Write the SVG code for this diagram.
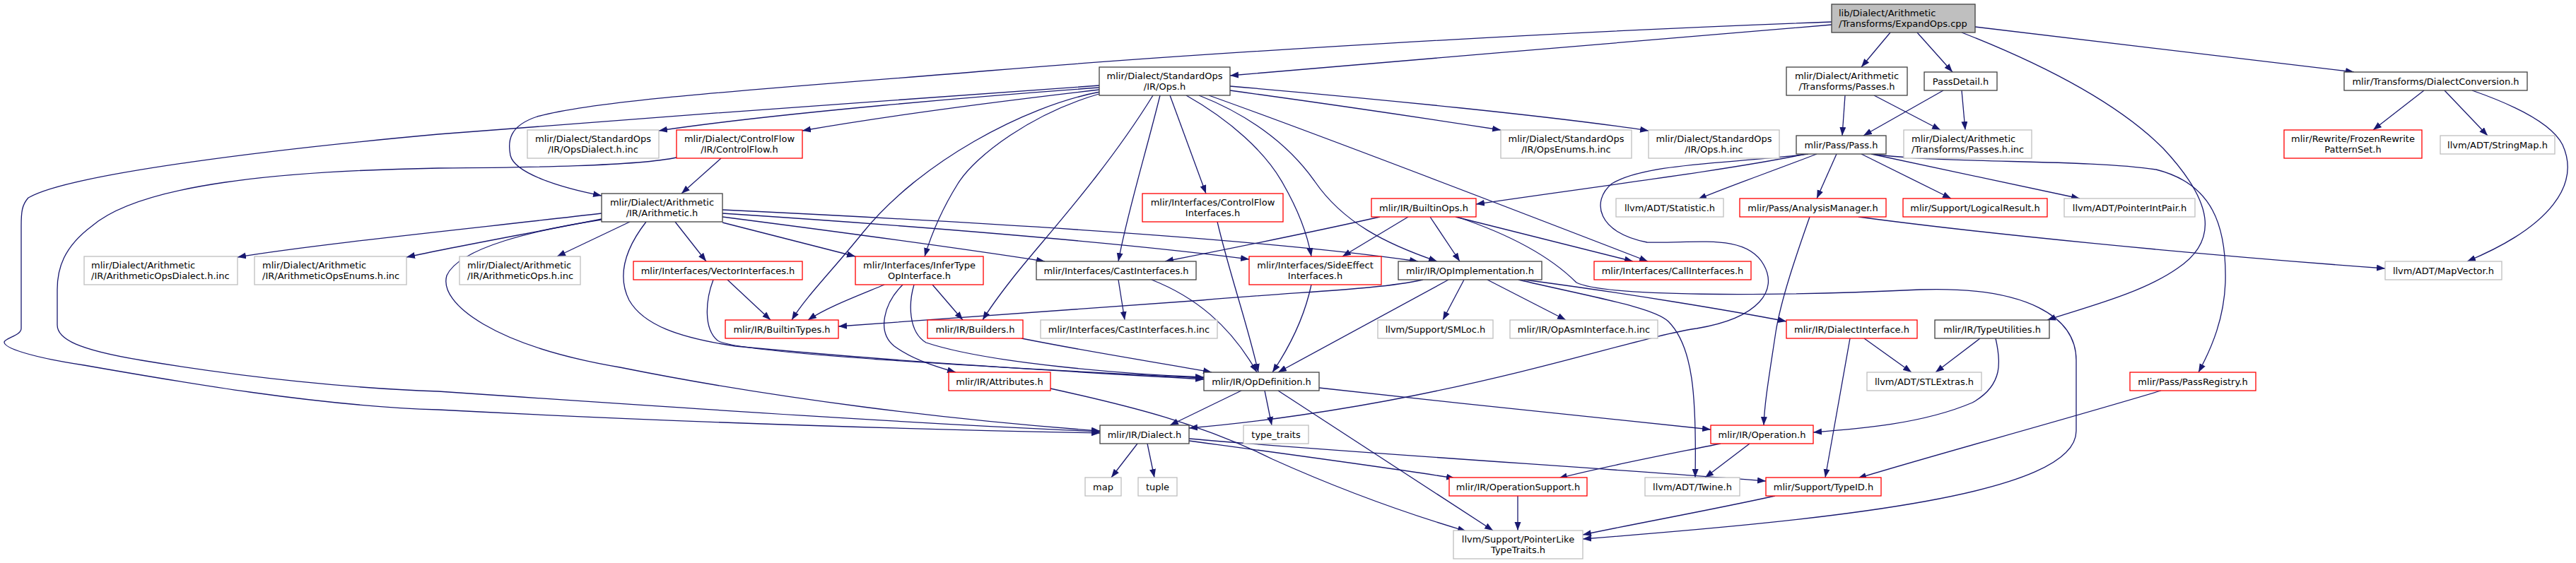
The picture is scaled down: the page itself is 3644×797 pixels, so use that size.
<svg xmlns="http://www.w3.org/2000/svg" width="3644" height="797" viewBox="0 0 3644 797">
<defs>
<style>
.e{fill:none;stroke:#191970;stroke-width:1.3;marker-end:url(#a)}
rect{fill:#ffffff;stroke-width:1.3}
.b rect{stroke:#404040}
.g rect{stroke:#bfbfbf}
.r rect{stroke:#ff0000}
.root rect{fill:#bfbfbf;stroke:#404040}
text{font-family:"DejaVu Sans","Liberation Sans",sans-serif;font-size:13px;fill:#000000;text-anchor:middle}
text.l{text-anchor:start}
</style>
<marker id="a" markerWidth="13" markerHeight="10" refX="12" refY="4.5" orient="auto" markerUnits="userSpaceOnUse" viewBox="0 0 13 10"><path d="M0,0L12,4.5L0,9z" fill="#191970"/></marker>
</defs>
<rect x="0" y="0" width="3644" height="797"/>
<g id="edges">
<path class="e" d="M2591,35 C2350,55 2000,85 1740,107"/>
<path class="e" d="M2591,31 C2200,45 1700,75 1400,100 C1100,125 850,140 760,165 C720,178 718,200 722,220 C728,245 790,265 851,277"/>
<path class="e" d="M2674,46 L2633,95"/>
<path class="e" d="M2712,46 L2762,102"/>
<path class="e" d="M2794,38 C3000,62 3200,85 3330,102"/>
<path class="e" d="M2775,46 C2900,95 3000,150 3060,210 C3130,285 3140,340 3080,380 C3030,415 2950,435 2896,453"/>
<path class="e" d="M2610,135 L2606,192"/>
<path class="e" d="M2651,135 L2745,184"/>
<path class="e" d="M2749,128 L2636,192"/>
<path class="e" d="M2775,128 L2780,184"/>
<path class="e" d="M3429,128 L3357,184"/>
<path class="e" d="M3458,128 L3519,192"/>
<path class="e" d="M3497,128 C3560,150 3610,175 3625,205 C3650,260 3610,320 3490,370"/>
<path class="e" d="M1555,121 C1400,131 900,168 620,190 C400,210 100,245 40,280 C31,290 30,300 30,320 L30,465 C30,475 8,478 6,484 C5,492 40,505 119,517 C250,540 450,575 620,580 C1000,600 1300,608 1556,613"/>
<path class="e" d="M1555,124 C1400,135 1100,160 932,185"/>
<path class="e" d="M1555,127 C1400,145 1250,165 1135,185"/>
<path class="e" d="M1020,224 L964,274"/>
<path class="e" d="M957,223 C900,235 750,237 620,238 C400,242 200,260 130,320 C90,350 81,380 81,410 L81,460 C81,480 110,495 200,510 C350,535 500,550 620,554 C1000,580 1300,600 1556,611"/>
<path class="e" d="M1556,130 C1450,150 1300,230 1220,330 C1180,380 1140,420 1120,453"/>
<path class="e" d="M1558,132 C1460,160 1380,220 1355,260 C1330,300 1315,340 1308,363"/>
<path class="e" d="M1631,135 C1560,250 1470,345 1430,397 C1412,420 1398,440 1390,453"/>
<path class="e" d="M1641,135 C1620,220 1595,300 1582,370"/>
<path class="e" d="M1655,135 L1706,274"/>
<path class="e" d="M1678,135 C1740,170 1790,215 1815,260 C1838,300 1850,335 1855,363"/>
<path class="e" d="M1696,135 C1760,160 1820,200 1860,257 C1900,315 1960,345 2033,370"/>
<path class="e" d="M1710,135 C1850,185 2150,300 2331,370"/>
<path class="e" d="M1740,128 C1900,150 2020,168 2123,184"/>
<path class="e" d="M1740,122 C1950,140 2200,165 2332,185"/>
<path class="e" d="M851,302 C700,320 450,345 336,364"/>
<path class="e" d="M851,310 C750,330 650,348 575,364"/>
<path class="e" d="M891,314 L788,363"/>
<path class="e" d="M955,314 L999,370"/>
<path class="e" d="M1022,315 L1210,363"/>
<path class="e" d="M1022,307 C1200,330 1350,350 1478,370"/>
<path class="e" d="M1022,302 C1300,320 1600,345 1767,367"/>
<path class="e" d="M1022,297 C1400,315 1800,340 2006,370"/>
<path class="e" d="M914,314 C890,345 870,385 890,425 C910,460 960,478 1040,490 C1300,515 1550,528 1703,537"/>
<path class="e" d="M851,311 C760,325 650,350 632,390 C620,430 700,490 877,520 C1100,565 1350,595 1556,610"/>
<path class="e" d="M1029,396 L1090,453"/>
<path class="e" d="M1009,396 C998,425 995,465 1015,482 C1040,500 1400,520 1703,535"/>
<path class="e" d="M1251,403 C1210,420 1170,435 1143,453"/>
<path class="e" d="M1319,403 L1362,453"/>
<path class="e" d="M1277,403 C1250,430 1240,470 1265,490 C1290,508 1320,518 1352,527"/>
<path class="e" d="M1293,403 C1285,430 1285,470 1310,485 C1400,515 1600,530 1703,534"/>
<path class="e" d="M1582,396 L1591,453"/>
<path class="e" d="M1629,396 C1690,420 1740,460 1778,527"/>
<path class="e" d="M1722,314 C1740,390 1765,460 1780,527"/>
<path class="e" d="M1855,403 C1845,450 1825,490 1800,527"/>
<path class="e" d="M1445,479 C1550,500 1650,515 1714,527"/>
<path class="e" d="M2013,396 C1950,410 1850,412 1700,425 C1500,440 1300,455 1186,462"/>
<path class="e" d="M2049,396 L1808,527"/>
<path class="e" d="M2071,396 L2041,453"/>
<path class="e" d="M2104,396 L2215,453"/>
<path class="e" d="M2148,396 C2250,420 2340,435 2360,455 C2395,490 2400,560 2398,676"/>
<path class="e" d="M2156,396 C2300,415 2450,440 2527,455"/>
<path class="e" d="M1952,307 C1850,330 1750,350 1648,370"/>
<path class="e" d="M1992,307 L1899,363"/>
<path class="e" d="M2023,307 L2065,370"/>
<path class="e" d="M2059,307 L2310,370"/>
<path class="e" d="M2061,307 C2130,330 2190,360 2230,400 C2270,420 2500,420 2716,410 C2870,405 2937,450 2937,510 L2937,610 C2937,700 2600,735 2239,763"/>
<path class="e" d="M2554,218 C2450,240 2250,265 2088,289"/>
<path class="e" d="M2570,218 C2500,245 2450,262 2402,282"/>
<path class="e" d="M2558,218 C2450,232 2330,230 2280,260 C2250,285 2260,330 2330,343 C2400,345 2470,330 2495,375 C2515,410 2490,450 2400,465 C2330,475 2200,520 2000,560 C1900,580 1780,598 1682,606"/>
<path class="e" d="M2598,218 L2570,281"/>
<path class="e" d="M2633,218 L2760,281"/>
<path class="e" d="M2647,218 L2942,281"/>
<path class="e" d="M2649,218 C2750,232 2950,225 3050,240 C3130,260 3150,320 3148,400 C3146,450 3130,490 3110,527"/>
<path class="e" d="M2560,307 C2545,350 2520,420 2512,470 C2503,530 2496,570 2495,602"/>
<path class="e" d="M2629,307 C2800,330 3100,360 3374,380"/>
<path class="e" d="M1756,553 L1655,602"/>
<path class="e" d="M1789,553 L1799,602"/>
<path class="e" d="M1866,549 C2050,570 2300,595 2420,608"/>
<path class="e" d="M1808,553 L2112,751"/>
<path class="e" d="M1609,628 L1572,676"/>
<path class="e" d="M1623,628 L1633,676"/>
<path class="e" d="M1682,624 C1800,640 1950,660 2058,677"/>
<path class="e" d="M1682,621 C1900,640 2300,665 2498,681"/>
<path class="e" d="M1486,550 C1600,575 1700,600 1800,650 C1900,695 2000,730 2074,752"/>
<path class="e" d="M2434,628 C2350,645 2270,660 2205,677"/>
<path class="e" d="M2475,628 L2412,676"/>
<path class="e" d="M2637,479 L2704,527"/>
<path class="e" d="M2617,479 L2582,676"/>
<path class="e" d="M2801,479 L2738,527"/>
<path class="e" d="M2823,479 C2830,510 2835,545 2790,570 C2720,600 2630,607 2565,612"/>
<path class="e" d="M3057,553 C2900,600 2750,640 2628,677"/>
<path class="e" d="M2147,702 L2147,751"/>
<path class="e" d="M2511,702 C2420,722 2320,740 2239,757"/>
</g>
<g id="n_root" class="root"><rect x="2591" y="6" width="203" height="40"/><text class="l" x="2601" y="23">lib/Dialect/Arithmetic</text><text class="l" x="2601" y="38">/Transforms/ExpandOps.cpp</text></g>
<g id="n_stdops" class="b"><rect x="1555" y="95" width="185" height="40"/><text x="1647.5" y="112">mlir/Dialect/StandardOps</text><text x="1647.5" y="127">/IR/Ops.h</text></g>
<g id="n_arithpasses" class="b"><rect x="2527" y="95" width="171" height="40"/><text x="2612.5" y="112">mlir/Dialect/Arithmetic</text><text x="2612.5" y="127">/Transforms/Passes.h</text></g>
<g id="n_passdetail" class="b"><rect x="2722" y="102" width="103" height="26"/><text x="2773.5" y="120">PassDetail.h</text></g>
<g id="n_dialectconv" class="b"><rect x="3316" y="102" width="259" height="26"/><text x="3445.5" y="120">mlir/Transforms/DialectConversion.h</text></g>
<g id="n_opsdialectinc" class="g"><rect x="746" y="184" width="186" height="40"/><text x="839" y="201">mlir/Dialect/StandardOps</text><text x="839" y="216">/IR/OpsDialect.h.inc</text></g>
<g id="n_controlflow" class="r"><rect x="957" y="184" width="178" height="40"/><text x="1046" y="201">mlir/Dialect/ControlFlow</text><text x="1046" y="216">/IR/ControlFlow.h</text></g>
<g id="n_opsenumsinc" class="g"><rect x="2123" y="184" width="185" height="40"/><text x="2215.5" y="201">mlir/Dialect/StandardOps</text><text x="2215.5" y="216">/IR/OpsEnums.h.inc</text></g>
<g id="n_opsinc" class="g"><rect x="2332" y="184" width="185" height="40"/><text x="2424.5" y="201">mlir/Dialect/StandardOps</text><text x="2424.5" y="216">/IR/Ops.h.inc</text></g>
<g id="n_pass" class="b"><rect x="2541" y="192" width="127" height="26"/><text x="2604.5" y="210">mlir/Pass/Pass.h</text></g>
<g id="n_passesinc" class="g"><rect x="2693" y="184" width="181" height="40"/><text class="l" x="2704" y="201">mlir/Dialect/Arithmetic</text><text class="l" x="2704" y="216">/Transforms/Passes.h.inc</text></g>
<g id="n_frozen" class="r"><rect x="3231" y="184" width="195" height="40"/><text x="3328.5" y="201">mlir/Rewrite/FrozenRewrite</text><text x="3328.5" y="216">PatternSet.h</text></g>
<g id="n_stringmap" class="g"><rect x="3452" y="192" width="162" height="26"/><text x="3533" y="210">llvm/ADT/StringMap.h</text></g>
<g id="n_arith" class="b"><rect x="851" y="274" width="171" height="40"/><text x="936.5" y="291">mlir/Dialect/Arithmetic</text><text x="936.5" y="306">/IR/Arithmetic.h</text></g>
<g id="n_cfinterfaces" class="r"><rect x="1616" y="274" width="199" height="40"/><text x="1715.5" y="291">mlir/Interfaces/ControlFlow</text><text x="1715.5" y="306">Interfaces.h</text></g>
<g id="n_builtinops" class="r"><rect x="1940" y="281" width="148" height="26"/><text x="2014" y="299">mlir/IR/BuiltinOps.h</text></g>
<g id="n_statistic" class="g"><rect x="2286" y="281" width="152" height="26"/><text x="2362" y="299">llvm/ADT/Statistic.h</text></g>
<g id="n_analysis" class="r"><rect x="2461" y="281" width="207" height="26"/><text x="2564.5" y="299">mlir/Pass/AnalysisManager.h</text></g>
<g id="n_logical" class="r"><rect x="2692" y="281" width="204" height="26"/><text x="2794" y="299">mlir/Support/LogicalResult.h</text></g>
<g id="n_ptrintpair" class="g"><rect x="2920" y="281" width="185" height="26"/><text x="3012.5" y="299">llvm/ADT/PointerIntPair.h</text></g>
<g id="n_arithdialectinc" class="g"><rect x="119" y="363" width="217" height="40"/><text class="l" x="129" y="380">mlir/Dialect/Arithmetic</text><text class="l" x="129" y="395">/IR/ArithmeticOpsDialect.h.inc</text></g>
<g id="n_arithenumsinc" class="g"><rect x="360" y="363" width="215" height="40"/><text class="l" x="371" y="380">mlir/Dialect/Arithmetic</text><text class="l" x="371" y="395">/IR/ArithmeticOpsEnums.h.inc</text></g>
<g id="n_arithopsinc" class="g"><rect x="650" y="363" width="171" height="40"/><text class="l" x="661" y="380">mlir/Dialect/Arithmetic</text><text class="l" x="661" y="395">/IR/ArithmeticOps.h.inc</text></g>
<g id="n_vector" class="r"><rect x="896" y="370" width="239" height="26"/><text x="1015.5" y="388">mlir/Interfaces/VectorInterfaces.h</text></g>
<g id="n_infertype" class="r"><rect x="1210" y="363" width="181" height="40"/><text x="1300.5" y="380">mlir/Interfaces/InferType</text><text x="1300.5" y="395">OpInterface.h</text></g>
<g id="n_cast" class="b"><rect x="1466" y="370" width="226" height="26"/><text x="1579" y="388">mlir/Interfaces/CastInterfaces.h</text></g>
<g id="n_sideeffect" class="r"><rect x="1767" y="363" width="187" height="40"/><text x="1860.5" y="380">mlir/Interfaces/SideEffect</text><text x="1860.5" y="395">Interfaces.h</text></g>
<g id="n_opimpl" class="b"><rect x="1978" y="370" width="203" height="26"/><text x="2079.5" y="388">mlir/IR/OpImplementation.h</text></g>
<g id="n_call" class="r"><rect x="2255" y="370" width="222" height="26"/><text x="2366" y="388">mlir/Interfaces/CallInterfaces.h</text></g>
<g id="n_mapvector" class="g"><rect x="3374" y="370" width="165" height="26"/><text x="3456.5" y="388">llvm/ADT/MapVector.h</text></g>
<g id="n_builtintypes" class="r"><rect x="1026" y="453" width="160" height="26"/><text x="1106" y="471">mlir/IR/BuiltinTypes.h</text></g>
<g id="n_builders" class="r"><rect x="1312" y="453" width="135" height="26"/><text x="1379.5" y="471">mlir/IR/Builders.h</text></g>
<g id="n_castinc" class="g"><rect x="1472" y="453" width="250" height="26"/><text x="1597" y="471">mlir/Interfaces/CastInterfaces.h.inc</text></g>
<g id="n_smloc" class="g"><rect x="1949" y="453" width="163" height="26"/><text x="2030.5" y="471">llvm/Support/SMLoc.h</text></g>
<g id="n_opasminc" class="g"><rect x="2136" y="453" width="209" height="26"/><text x="2240.5" y="471">mlir/IR/OpAsmInterface.h.inc</text></g>
<g id="n_dialectiface" class="r"><rect x="2527" y="453" width="185" height="26"/><text x="2619.5" y="471">mlir/IR/DialectInterface.h</text></g>
<g id="n_typeutil" class="b"><rect x="2737" y="453" width="162" height="26"/><text x="2818" y="471">mlir/IR/TypeUtilities.h</text></g>
<g id="n_attributes" class="r"><rect x="1342" y="527" width="144" height="26"/><text x="1414" y="545">mlir/IR/Attributes.h</text></g>
<g id="n_opdef" class="b"><rect x="1703" y="527" width="163" height="26"/><text x="1784.5" y="545">mlir/IR/OpDefinition.h</text></g>
<g id="n_stlextras" class="g"><rect x="2641" y="527" width="162" height="26"/><text x="2722" y="545">llvm/ADT/STLExtras.h</text></g>
<g id="n_passregistry" class="r"><rect x="3013" y="527" width="178" height="26"/><text x="3102" y="545">mlir/Pass/PassRegistry.h</text></g>
<g id="n_dialect" class="b"><rect x="1556" y="602" width="126" height="26"/><text x="1619" y="620">mlir/IR/Dialect.h</text></g>
<g id="n_typetraits" class="g"><rect x="1759" y="602" width="92" height="26"/><text x="1805" y="620">type_traits</text></g>
<g id="n_operation" class="r"><rect x="2420" y="602" width="145" height="26"/><text x="2492.5" y="620">mlir/IR/Operation.h</text></g>
<g id="n_map" class="g"><rect x="1535" y="676" width="51" height="26"/><text x="1560.5" y="694">map</text></g>
<g id="n_tuple" class="g"><rect x="1610" y="676" width="55" height="26"/><text x="1637.5" y="694">tuple</text></g>
<g id="n_opsupport" class="r"><rect x="2050" y="676" width="195" height="26"/><text x="2147.5" y="694">mlir/IR/OperationSupport.h</text></g>
<g id="n_twine" class="g"><rect x="2327" y="676" width="134" height="26"/><text x="2394" y="694">llvm/ADT/Twine.h</text></g>
<g id="n_typeid" class="r"><rect x="2498" y="676" width="163" height="26"/><text x="2579.5" y="694">mlir/Support/TypeID.h</text></g>
<g id="n_pointerlike" class="g"><rect x="2056" y="751" width="183" height="40"/><text x="2147.5" y="768">llvm/Support/PointerLike</text><text x="2147.5" y="783">TypeTraits.h</text></g>
</svg>
